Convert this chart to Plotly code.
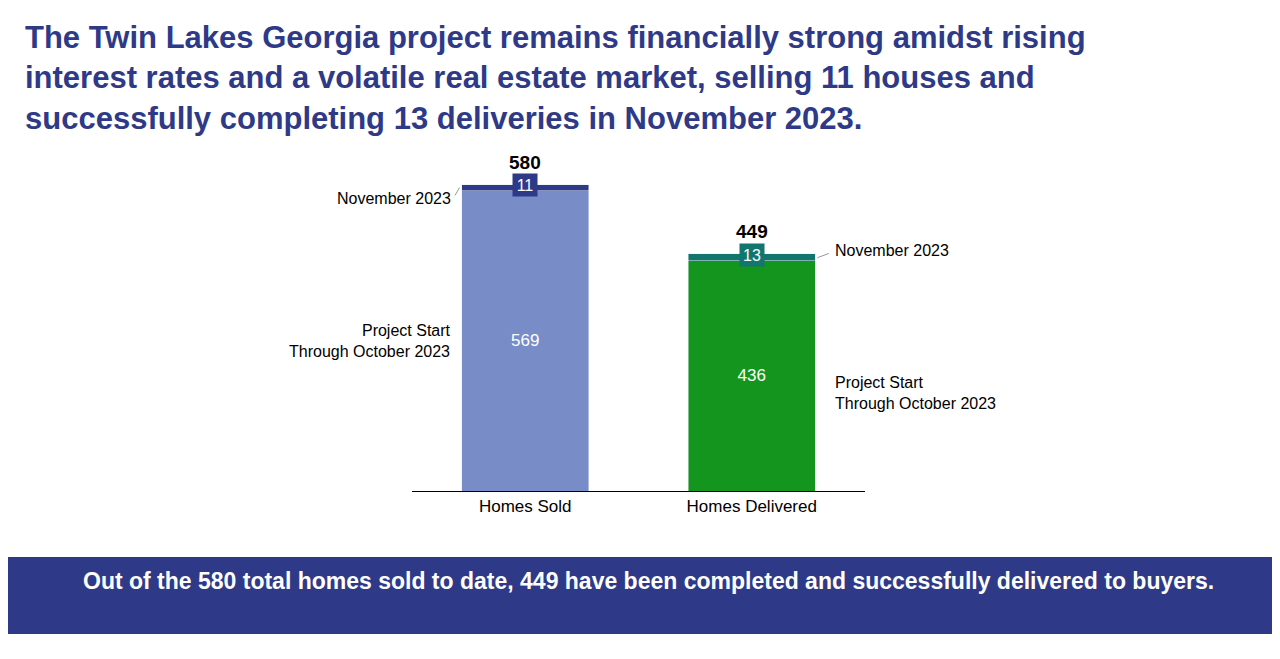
import plotly.graph_objects as go

categorias = ["Homes Sold", "Homes Delivered"]
ate_outubro = [569, 436]
novembro = [11, 13]
totais = [580, 449]

cor_base = ["#788CC8", "#14961E"]
cor_nov = ["#2E3A87", "#12766F"]

fig = go.Figure()
fig.add_trace(go.Bar(x=[0, 1], y=ate_outubro, marker_color=cor_base, width=0.56,
                     text=ate_outubro, textposition="inside", insidetextanchor="middle",
                     textfont=dict(color="white", size=17)))
fig.add_trace(go.Bar(x=[0, 1], y=novembro, marker_color=cor_nov, width=0.56))

for i in range(2):
    fig.add_annotation(x=i, y=totais[i] - 1, text=str(novembro[i]), showarrow=False,
                       bgcolor=cor_nov[i], font=dict(color="white", size=16),
                       width=22, height=20, yanchor="middle")
    fig.add_annotation(x=i, y=totais[i], text="<b>%d</b>" % totais[i], showarrow=False,
                       yanchor="bottom", yshift=10, font=dict(color="black", size=19))

# rotulos laterais
fig.add_shape(type="line", xref="x", yref="y", x0=-0.29, x1=-0.31, y0=575, y1=560,
              line=dict(color="#999", width=1))
fig.add_shape(type="line", xref="x", yref="y", x0=1.29, x1=1.34, y0=442, y1=450,
              line=dict(color="#999", width=1))
fig.add_annotation(x=-0.32, y=555, xref="x", yref="y", text="November 2023", showarrow=False,
                   xanchor="right", font=dict(size=16, color="black"))
fig.add_annotation(x=-0.32, y=284, xref="x", yref="y", text="Project Start<br>Through October 2023",
                   showarrow=False, xanchor="right", align="right", font=dict(size=16, color="black"))
fig.add_annotation(x=1.36, y=455, xref="x", yref="y", text="November 2023", showarrow=False,
                   xanchor="left", font=dict(size=16, color="black"))
fig.add_annotation(x=1.36, y=186, xref="x", yref="y", text="Project Start<br>Through October 2023",
                   showarrow=False, xanchor="left", align="left", font=dict(size=16, color="black"))

fig.add_annotation(x=0.012, y=0.985, xref="paper", yref="paper", xanchor="left", yanchor="top",
                   text="<b>The Twin Lakes Georgia project remains financially strong amidst rising<br>"
                        "interest rates and a volatile real estate market, selling 11 houses and<br>"
                        "successfully completing 13 deliveries in November 2023.</b>",
                   showarrow=False, align="left", font=dict(size=31, color="#2E3A87"))
fig.add_shape(type="rect", xref="paper", yref="paper", x0=0, x1=1, y0=0.05, y1=0.167,
              fillcolor="#2E3A87", line_width=0, layer="below")
fig.add_annotation(x=0.5, y=0.108, xref="paper", yref="paper", showarrow=False,
                   text="<b>Out of the 580 total homes sold to date, 449 have been completed and successfully delivered to buyers.</b>",
                   font=dict(size=23, color="white"))

fig.update_layout(
    barmode="stack", showlegend=False, width=1280, height=659,
    paper_bgcolor="white", plot_bgcolor="white",
    font=dict(family="Liberation Sans, Arial, sans-serif"),
    margin=dict(l=0, r=0, t=0, b=0),
    xaxis=dict(domain=[404 / 1280, 857 / 1280], range=[-0.5, 1.5], showline=True, linecolor="black",
               tickvals=[0, 1], ticktext=categorias, tickangle=0,
               tickfont=dict(size=17, color="black"), ticks=""),
    yaxis=dict(domain=[176 / 659, 517 / 659], range=[0, 646], visible=False),
)
fig.write_html("out.html")
